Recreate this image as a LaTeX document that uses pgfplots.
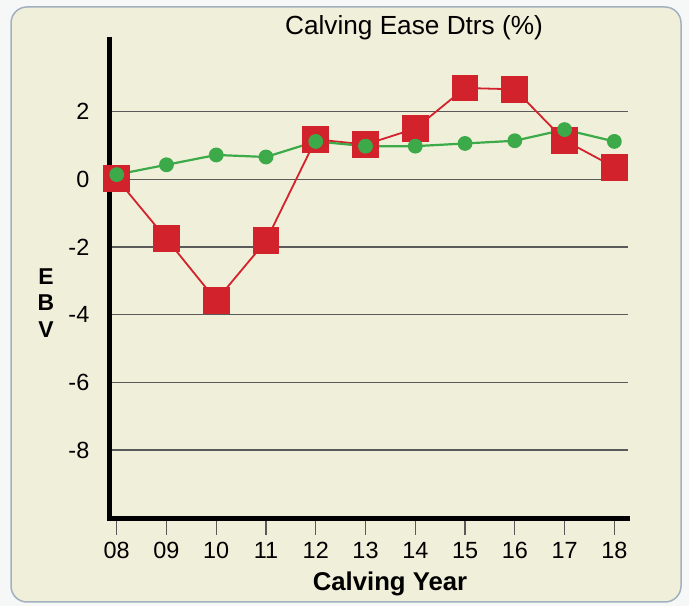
\documentclass[border=0pt]{standalone}
\usepackage{pgfplots}
\pgfplotsset{compat=1.18}
\usepackage{fontspec}
\setmainfont{Liberation Sans}
\definecolor{bgc}{HTML}{F0EFDA}
\definecolor{brd}{HTML}{A3B0C0}
\definecolor{outc}{HTML}{F6F8F8}
\definecolor{redc}{HTML}{D2222B}
\definecolor{grnc}{HTML}{3DAA49}
\definecolor{gridc}{HTML}{5A5A5A}
\begin{document}
\begin{tikzpicture}
\fill[outc] (0bp,0bp) rectangle (689bp,606bp);
\draw[fill=bgc, draw=brd, line width=1.5bp, rounded corners=16bp] (11bp,4bp) rectangle (681bp,599bp);
\begin{axis}[
  at={(109.5bp,87bp)}, anchor=south west,
  scale only axis, width=518bp, height=479.4bp,
  xmin=7.855, xmax=18.265, ymin=-10.04, ymax=4.13,
  axis lines=left,
  axis line style={-, line width=5bp, line cap=rect, black},
  xtick={8,...,18},
  xticklabels={08,09,10,11,12,13,14,15,16,17,18},
  ytick={-8,-6,-4,-2,0,2},
  yticklabels={-8,-6,-4,-2,0,2},
  ymajorgrids,
  grid style={draw=gridc, line width=1.3bp},
  tick align=outside, major tick length=16bp,
  xtick style={draw=black!65, line width=1.2bp},
  ytick style={draw=none},
  ticklabel style={font=\fontsize{23.5}{28}\selectfont},
  xticklabel style={anchor=north, inner sep=0pt, yshift=-7bp},
  yticklabel style={anchor=east, inner sep=0pt, xshift=-4bp},
]
\addplot[redc, line width=1.8bp, mark=square*, mark size=12.5bp, mark options={solid, fill=redc, draw=none}] coordinates {
(8,0.02) (9,-1.76) (10,-3.58) (11,-1.82) (12,1.18) (13,1.03) (14,1.5) (15,2.7) (16,2.66) (17,1.15) (18,0.36)};
\addplot[grnc, line width=2.2bp, mark=*, mark size=6.3bp, mark options={solid, fill=grnc, draw=none}] coordinates {
(8,0.14) (9,0.43) (10,0.72) (11,0.66) (12,1.12) (13,0.98) (14,0.98) (15,1.06) (16,1.14) (17,1.47) (18,1.12)};
\end{axis}
\node[font=\fontsize{26.3}{30}\selectfont, anchor=base] at (414bp,571bp) {Calving Ease Dtrs (\%)};
\node[font=\bfseries\fontsize{25.8}{30}\selectfont, anchor=base] at (390bp,16bp) {Calving Year};
\node[font=\bfseries\fontsize{23}{26.5}\selectfont, align=center] at (46bp,303bp) {E\\B\\V};
\end{tikzpicture}
\end{document}
